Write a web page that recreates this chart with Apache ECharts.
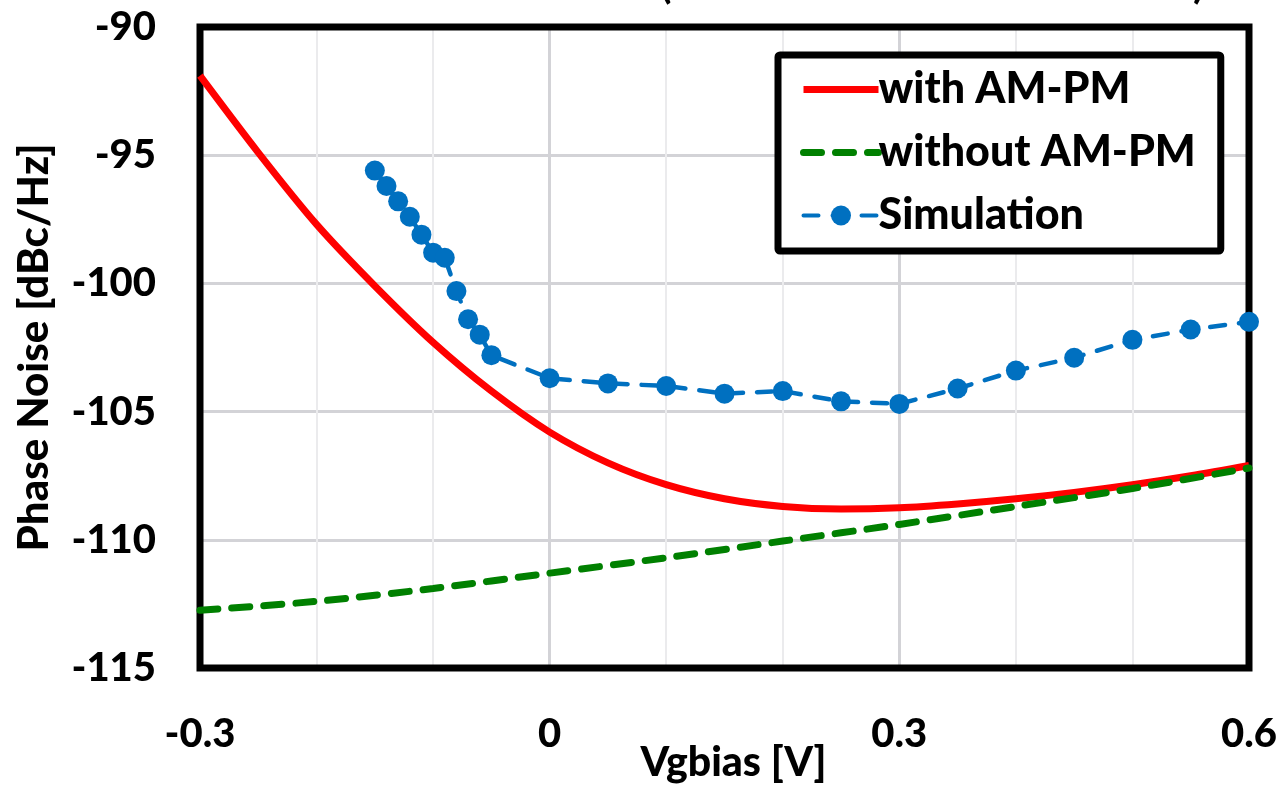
<!DOCTYPE html>
<html>
<head>
<meta charset="utf-8">
<script src="https://cdn.jsdelivr.net/npm/echarts@6/dist/echarts.min.js"></script>
<style>
    html, body { margin: 0; padding: 0; background: #fff; }
    #chart { width: 1284px; height: 787px; }
</style>
</head>
<body>
<div id="chart"></div>
<script>
// with AM-PM (model)
var vgWith = [-0.30, -0.25, -0.20, -0.15, -0.10, -0.05, 0.00, 0.05, 0.10, 0.15,
              0.20, 0.25, 0.30, 0.35, 0.40, 0.45, 0.50, 0.55, 0.60];
var pnWith = [-91.9, -94.9, -97.7, -100.1, -102.3, -104.2, -105.8, -107.0, -107.85, -108.4,
              -108.7, -108.8, -108.75, -108.6, -108.4, -108.15, -107.85, -107.5, -107.1];

// without AM-PM (model)
var vgWithout = [-0.3, -0.2, -0.1, 0.0, 0.1, 0.2, 0.3, 0.4, 0.5, 0.6];
var pnWithout = [-112.75, -112.4, -111.9, -111.3, -110.7, -110.05, -109.4, -108.7, -108.0, -107.2];

// simulation points
var vgSim = [-0.15, -0.14, -0.13, -0.12, -0.11, -0.10, -0.09, -0.08, -0.07, -0.06, -0.05,
             0.00, 0.05, 0.10, 0.15, 0.20, 0.25, 0.30, 0.35, 0.40, 0.45, 0.50, 0.55, 0.60];
var pnSim = [-95.6, -96.2, -96.8, -97.4, -98.1, -98.8, -99.0, -100.3, -101.4, -102.0, -102.8,
             -103.7, -103.9, -104.0, -104.3, -104.2, -104.6, -104.7, -104.1, -103.4, -102.9, -102.2, -101.8, -101.5];

var xTicks = [-0.3, 0, 0.3, 0.6];
var yTicks = [-115, -110, -105, -100, -95, -90];

function pairs(xs, ys) {
    return xs.map(function (x, i) { return [x, ys[i]]; });
}

var font = 'Lato, "Liberation Sans", sans-serif';

var dom = document.getElementById('chart');
var myChart = echarts.init(dom, null, {renderer: 'canvas'});

option = {
    animation: false,
    textStyle: {fontFamily: font},
    grid: {
        left: 200,
        right: 35,
        top: 27,
        bottom: 119,
        outerBoundsMode: 'none',
        containLabel: false,
        show: true,
        z: 3,
        borderColor: '#000',
        borderWidth: 7,
        backgroundColor: 'transparent'
    },
    graphic: [
        // bottoms of a clipped title, as in the original
        {type: 'text', left: 660, top: -37, style: {text: '(', font: 'bold 42px ' + font, fill: '#000'}},
        {type: 'text', left: 1193, top: -37, style: {text: ')', font: 'bold 42px ' + font, fill: '#000'}}
    ],
    legend: {
        orient: 'vertical',
        left: 778,
        top: 55,
        padding: [13, 25, 14, 22],
        backgroundColor: '#fff',
        borderColor: '#000',
        borderWidth: 7,
        borderRadius: 2,
        itemWidth: 75,
        itemHeight: 25,
        itemGap: 20,
        textStyle: {
            fontFamily: font,
            fontWeight: 900,
            fontSize: 43,
            lineHeight: 42,
            color: '#000',
            padding: [0, 0, 0, -5]
        },
        data: [
            {name: 'with AM-PM', itemStyle: {opacity: 0}, lineStyle: {width: 7}},
            {name: 'without AM-PM', itemStyle: {opacity: 0}, lineStyle: {width: 7}},
            {name: 'Simulation', lineStyle: {width: 4}}
        ]
    },
    xAxis: {
        type: 'value',
        min: -0.3,
        max: 0.6,
        interval: 0.3,
        name: 'Vgbias [V]',
        nameLocation: 'middle',
        nameGap: 74,
        nameMoveOverlap: false,
        nameTextStyle: {
            fontFamily: font,
            fontWeight: 900,
            fontSize: 41,
            color: '#000',
            padding: [0, 0, 0, 18]
        },
        axisLine: {show: false},
        axisTick: {show: false},
        axisLabel: {
            margin: 46,
            fontFamily: font,
            fontWeight: 900,
            fontSize: 40,
            color: '#000',
            formatter: function (v) {
                var t = xTicks.find(function (k) { return Math.abs(k - v) < 1e-6; });
                return t === undefined ? '' : String(t);
            }
        },
        splitLine: {show: true, lineStyle: {color: '#d3d3d7', width: 3}},
        minorTick: {show: false, splitNumber: 3},
        minorSplitLine: {show: true, lineStyle: {color: '#ebebed', width: 2}}
    },
    yAxis: {
        type: 'value',
        min: yTicks[0],
        max: yTicks[yTicks.length - 1],
        interval: 5,
        name: 'Phase Noise [dBc/Hz]',
        nameLocation: 'middle',
        nameGap: 145,
        nameMoveOverlap: false,
        nameTextStyle: {
            fontFamily: font,
            fontWeight: 900,
            fontSize: 42,
            color: '#000'
        },
        axisLine: {show: false},
        axisTick: {show: false},
        axisLabel: {
            margin: 44,
            fontFamily: font,
            fontWeight: 900,
            fontSize: 40,
            color: '#000'
        },
        splitLine: {show: true, lineStyle: {color: '#d3d3d7', width: 3}}
    },
    series: [
        {
            name: 'with AM-PM',
            type: 'line',
            data: pairs(vgWith, pnWith),
            smooth: 0.3,
            symbol: 'none',
            color: '#ff0000',
            lineStyle: {color: '#ff0000', width: 7}
        },
        {
            name: 'without AM-PM',
            type: 'line',
            data: pairs(vgWithout, pnWithout),
            smooth: 0.3,
            symbol: 'none',
            color: '#008000',
            lineStyle: {color: '#008000', width: 7, type: [18, 14], cap: 'round'}
        },
        {
            name: 'Simulation',
            type: 'line',
            data: pairs(vgSim, pnSim),
            symbol: 'circle',
            symbolSize: 20,
            color: '#0070c0',
            itemStyle: {color: '#0070c0'},
            lineStyle: {color: '#0070c0', width: 4.5, type: [15, 14], cap: 'round'}
        }
    ]
};

if (option && typeof option === "object") {
    myChart.setOption(option, true);
}
</script>
</body>
</html>
